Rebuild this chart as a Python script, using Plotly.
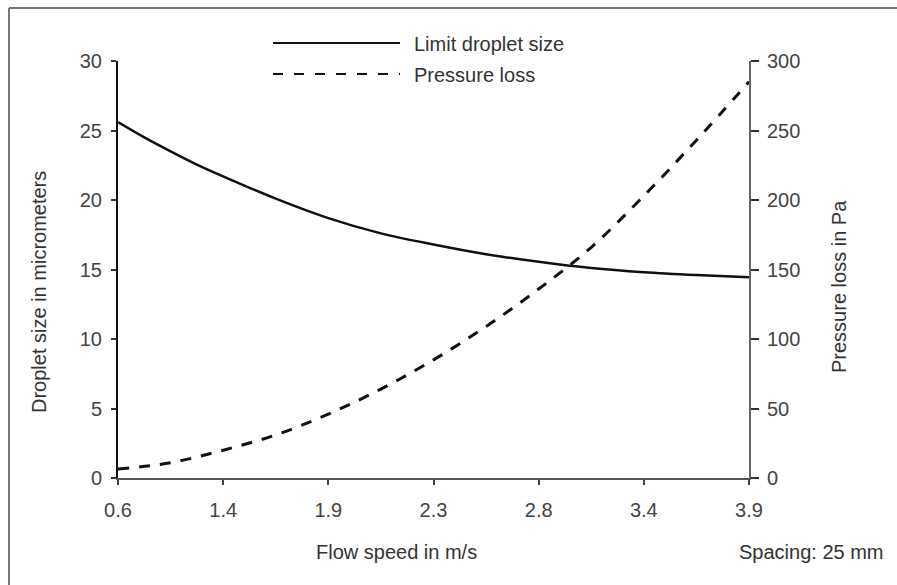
import plotly.graph_objects as go

# x axis: flow speed categories, equally spaced on the chart
speed_labels = ["0.6", "1.4", "1.9", "2.3", "2.8", "3.4", "3.9"]
speed_pos = list(range(len(speed_labels)))

# limit droplet size (micrometers)
droplet_pos = [0, 0.25, 0.5, 0.75, 1, 1.5, 2, 2.5, 3, 3.5, 4, 4.5, 5, 5.5, 6]
droplet_um = [25.6, 24.5, 23.5, 22.55, 21.7, 20.1, 18.7, 17.6, 16.8, 16.1, 15.55, 15.1, 14.8, 14.6, 14.45]

# pressure loss (Pa)
pressure_pos = [0, 0.5, 1, 1.5, 2, 2.5, 3, 3.5, 4, 4.5, 5, 5.5, 6]
pressure_pa = [6.5, 11, 20, 31, 46, 64, 85, 109, 136, 166, 203, 243, 285]

left_ticks = [0, 5, 10, 15, 20, 25, 30]
right_ticks = [0, 50, 100, 150, 200, 250, 300]

W, H = 897, 585
L, R, T, B = 118, 148, 61, 107
FONT = "Liberation Sans, Arial, sans-serif"
FS = 20


def px(x):
    return (x - L) / (W - L - R)


def py(y):
    return (H - B - y) / (H - T - B)


fig = go.Figure()

fig.add_trace(go.Scatter(
    x=droplet_pos, y=droplet_um, mode="lines", name="Limit droplet size",
    line=dict(color="#111", width=2.5, shape="spline"), yaxis="y"))

fig.add_trace(go.Scatter(
    x=pressure_pos, y=pressure_pa, mode="lines", name="Pressure loss",
    line=dict(color="#111", width=3, dash="11px,10px", shape="spline"), yaxis="y2"))

tick_font = dict(family=FONT, size=FS, color="#444")

fig.update_layout(
    width=W, height=H, autosize=False,
    margin=dict(l=L, r=R, t=T, b=B),
    paper_bgcolor="white", plot_bgcolor="white",
    showlegend=False,
    font=dict(family=FONT, size=FS, color="#333"),
    xaxis=dict(range=[0, 6], tickvals=speed_pos, ticktext=speed_labels,
               showgrid=False, zeroline=False, showline=True, linecolor="#555", linewidth=1.5,
               ticks="outside", ticklen=5, tickwidth=1.5, tickcolor="#444",
               tickfont=tick_font, ticklabelstandoff=8),
    xaxis2=dict(range=[0, 6], tickvals=speed_pos, overlaying="x", anchor="y",
                showgrid=False, zeroline=False, showline=False, showticklabels=False,
                ticks="inside", ticklen=9, tickwidth=1.5, tickcolor="#444"),
    yaxis=dict(range=[0, 30], tickvals=left_ticks,
               showgrid=False, zeroline=False, showline=True, linecolor="#111", linewidth=2,
               ticks="outside", ticklen=5, tickwidth=2, tickcolor="#333",
               tickfont=tick_font, ticklabelstandoff=5),
    yaxis3=dict(range=[0, 30], tickvals=left_ticks, overlaying="y", anchor="x",
                showgrid=False, zeroline=False, showline=False, showticklabels=False,
                ticks="inside", ticklen=8, tickwidth=2, tickcolor="#333"),
    yaxis2=dict(range=[0, 300], tickvals=right_ticks, overlaying="y", side="right", anchor="x",
                showgrid=False, zeroline=False, showline=True, linecolor="#666", linewidth=2,
                ticks="outside", ticklen=8, tickwidth=2, tickcolor="#333",
                tickfont=tick_font, ticklabelstandoff=4),
    yaxis4=dict(range=[0, 300], tickvals=right_ticks, overlaying="y", side="right", anchor="x",
                showgrid=False, zeroline=False, showline=False, showticklabels=False,
                ticks="inside", ticklen=7, tickwidth=2, tickcolor="#333"),
)

# outer frame (only left and top edges are visible in the crop)
frame = dict(color="#777", width=2)
fig.add_shape(type="line", xref="paper", yref="paper", x0=px(9), x1=px(W + 5), y0=py(8), y1=py(8), line=frame)
fig.add_shape(type="line", xref="paper", yref="paper", x0=px(9), x1=px(9), y0=py(8), y1=py(H + 5), line=frame)

# legend drawn by hand (long line samples)
fig.add_shape(type="line", xref="paper", yref="paper", x0=px(273), x1=px(400), y0=py(43), y1=py(43),
              line=dict(color="#111", width=2))
fig.add_shape(type="line", xref="paper", yref="paper", x0=px(273), x1=px(400), y0=py(74), y1=py(74),
              line=dict(color="#111", width=2, dash="10px,11px"))

texts = [
    ("Limit droplet size", 412, 44, 0, "left"),
    ("Pressure loss", 412, 75, 0, "left"),
    ("Flow speed in m/s", 396, 552, 0, "center"),
    ("Spacing: 25 mm", 811, 552, 0, "center"),
    ("Droplet size in micrometers", 39, 292, -90, "center"),
    ("Pressure loss in Pa", 839, 287, -90, "center"),
]
for txt, x, y, ang, anchor in texts:
    fig.add_annotation(text=txt, xref="paper", yref="paper", x=px(x), y=py(y),
                       xanchor=anchor, yanchor="middle", textangle=ang, showarrow=False,
                       font=dict(family=FONT, size=FS, color="#333"))

# drop the default page margin so the figure sits at the window's top-left
fig.write_html("out.html", config={"displayModeBar": False},
               post_script="document.body.style.margin='0';document.body.style.overflow='hidden';")
